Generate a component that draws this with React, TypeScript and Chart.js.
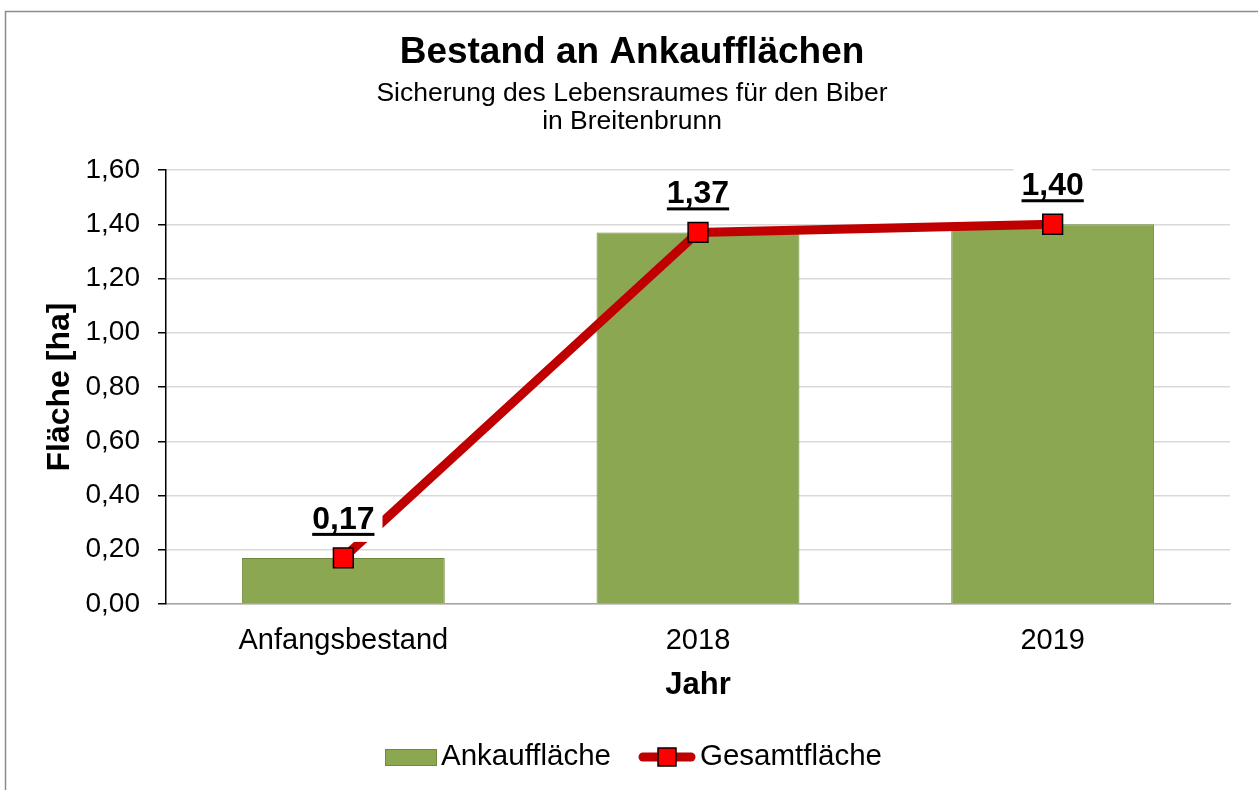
import React, { useEffect, useRef } from "react";
import Chart from "chart.js/auto";

const categories = ["Anfangsbestand", "2018", "2019"];
const ankaufflaeche = [0.17, 1.37, 1.4];
const gesamtflaeche = [0.17, 1.37, 1.4];
const dataLabels = ["0,17", "1,37", "1,40"];
const titleText = "Bestand an Ankaufflächen";
const subtitleLines = ["Sicherung des Lebensraumes für den Biber", "in Breitenbrunn"];
const yTitle = "Fläche [ha]";
const xTitle = "Jahr";
const legendLabels = ["Ankauffläche", "Gesamtfläche"];

const FONT = "'Liberation Sans', Arial, sans-serif";
const BAR_FILL = "#8BA751";
const BAR_BORDER = "#71893F";
const LINE_COLOR = "#C00000";
const MARKER_FILL = "#FF0000";

export default function App() {
  const ref = useRef<HTMLCanvasElement | null>(null);

  useEffect(() => {
    document.body.style.margin = "0";
    const canvas = ref.current!;
    const decor = {
      id: "decor",
      beforeDraw(chart: any) {
        const ctx = chart.ctx;
        ctx.save();
        ctx.fillStyle = "#fff";
        ctx.fillRect(0, 0, chart.width, chart.height);
        ctx.restore();
      },
      afterDatasetsDraw(chart: any) {
        const ctx = chart.ctx;
        const meta = chart.getDatasetMeta(1);
        ctx.save();
        ctx.font = `bold 32px ${FONT}`;
        ctx.textAlign = "center";
        ctx.textBaseline = "middle";
        meta.data.forEach((pt: any, i: number) => {
          const label = dataLabels[i];
          const w = ctx.measureText(label).width;
          const cx = pt.x;
          const cy = pt.y - 38;
          ctx.fillStyle = "#fff";
          ctx.fillRect(cx - w / 2 - 8, cy - 21, w + 16, 43);
          ctx.fillStyle = "#000";
          ctx.fillText(label, cx, cy);
          ctx.fillRect(cx - w / 2, cy + 13, w, 3);
        });
        ctx.restore();
      },
      afterDraw(chart: any) {
        const ctx = chart.ctx;
        const area = chart.chartArea;
        const cx = (area.left + area.right) / 2;
        ctx.save();
        ctx.fillStyle = "#000";
        ctx.textAlign = "center";
        ctx.textBaseline = "middle";
        ctx.font = `bold 37px ${FONT}`;
        ctx.fillText(titleText, 632, 53);
        ctx.font = `26.5px ${FONT}`;
        ctx.fillText(subtitleLines[0], 632, 94);
        ctx.fillText(subtitleLines[1], 632, 122);
        // x title
        ctx.font = `bold 31px ${FONT}`;
        ctx.fillText(xTitle, cx, 685);
        // y title
        ctx.save();
        ctx.font = `bold 32px ${FONT}`;
        ctx.translate(60, (area.top + area.bottom) / 2);
        ctx.rotate(-Math.PI / 2);
        ctx.fillText(yTitle, 0, 0);
        ctx.restore();
        // legend
        const ly = 757;
        ctx.fillStyle = BAR_FILL;
        ctx.fillRect(385, 749, 52, 17);
        ctx.strokeStyle = BAR_BORDER;
        ctx.lineWidth = 1;
        ctx.strokeRect(385.5, 749.5, 51, 16);
        ctx.fillStyle = "#000";
        ctx.font = `29.5px ${FONT}`;
        ctx.textAlign = "left";
        ctx.fillText(legendLabels[0], 441, ly);
        ctx.strokeStyle = LINE_COLOR;
        ctx.lineWidth = 9;
        ctx.lineCap = "round";
        ctx.beginPath();
        ctx.moveTo(643, ly);
        ctx.lineTo(691, ly);
        ctx.stroke();
        ctx.fillStyle = MARKER_FILL;
        ctx.fillRect(658, ly - 9, 18, 18);
        ctx.strokeStyle = "#000";
        ctx.lineWidth = 1.5;
        ctx.lineCap = "butt";
        ctx.strokeRect(658, ly - 9, 18, 18);
        ctx.fillStyle = "#000";
        ctx.fillText(legendLabels[1], 700, ly);
        // outer border
        ctx.strokeStyle = "#8c8c8c";
        ctx.lineWidth = 1.5;
        ctx.strokeRect(5.5, 11.5, 1300, 900);
        ctx.restore();
      },
    };

    const chart = new Chart(canvas, {
      data: {
        labels: categories,
        datasets: [
          {
            type: "bar",
            label: legendLabels[0],
            data: ankaufflaeche,
            backgroundColor: BAR_FILL,
            borderColor: BAR_BORDER,
            borderWidth: 1,
            categoryPercentage: 1,
            barPercentage: 0.572,
            order: 2,
          },
          {
            type: "line",
            label: legendLabels[1],
            data: gesamtflaeche,
            borderColor: LINE_COLOR,
            borderWidth: 9,
            pointStyle: "rect",
            pointRadius: 14,
            pointBackgroundColor: MARKER_FILL,
            pointBorderColor: "#000",
            pointBorderWidth: 1.5,
            tension: 0,
            order: 1,
          },
        ],
      } as any,
      plugins: [decor],
      options: {
        responsive: false,
        animation: false,
        layout: { padding: { top: 170, right: 28, left: 0, bottom: 0 } },
        plugins: {
          legend: { display: false },
          tooltip: { enabled: false },
          title: { display: false },
        },
        scales: {
          x: {
            grid: { display: false },
            border: { display: true, color: "#a6a6a6", width: 1.5 },
            ticks: { color: "#000", font: { family: FONT, size: 29 }, padding: 12 },
            afterFit: (s: any) => {
              s.height = 186;
            },
          },
          y: {
            min: 0,
            max: 1.6,
            grid: { color: "#d9d9d9", lineWidth: 1.5, tickColor: "#000", tickLength: 8 },
            border: { display: true, color: "#000", width: 1.5 },
            ticks: {
              stepSize: 0.2,
              color: "#000",
              padding: 18,
              font: { family: FONT, size: 28 },
              callback: (v: any) => Number(v).toFixed(2).replace(".", ","),
            },
            afterFit: (s: any) => {
              s.width = 166;
            },
          },
        },
      } as any,
    });
    return () => chart.destroy();
  }, []);

  return (
    <div style={{ position: "absolute", left: 0, top: 0 }}>
      <canvas ref={ref} width={1258} height={790} style={{ display: "block" }} />
    </div>
  );
}
